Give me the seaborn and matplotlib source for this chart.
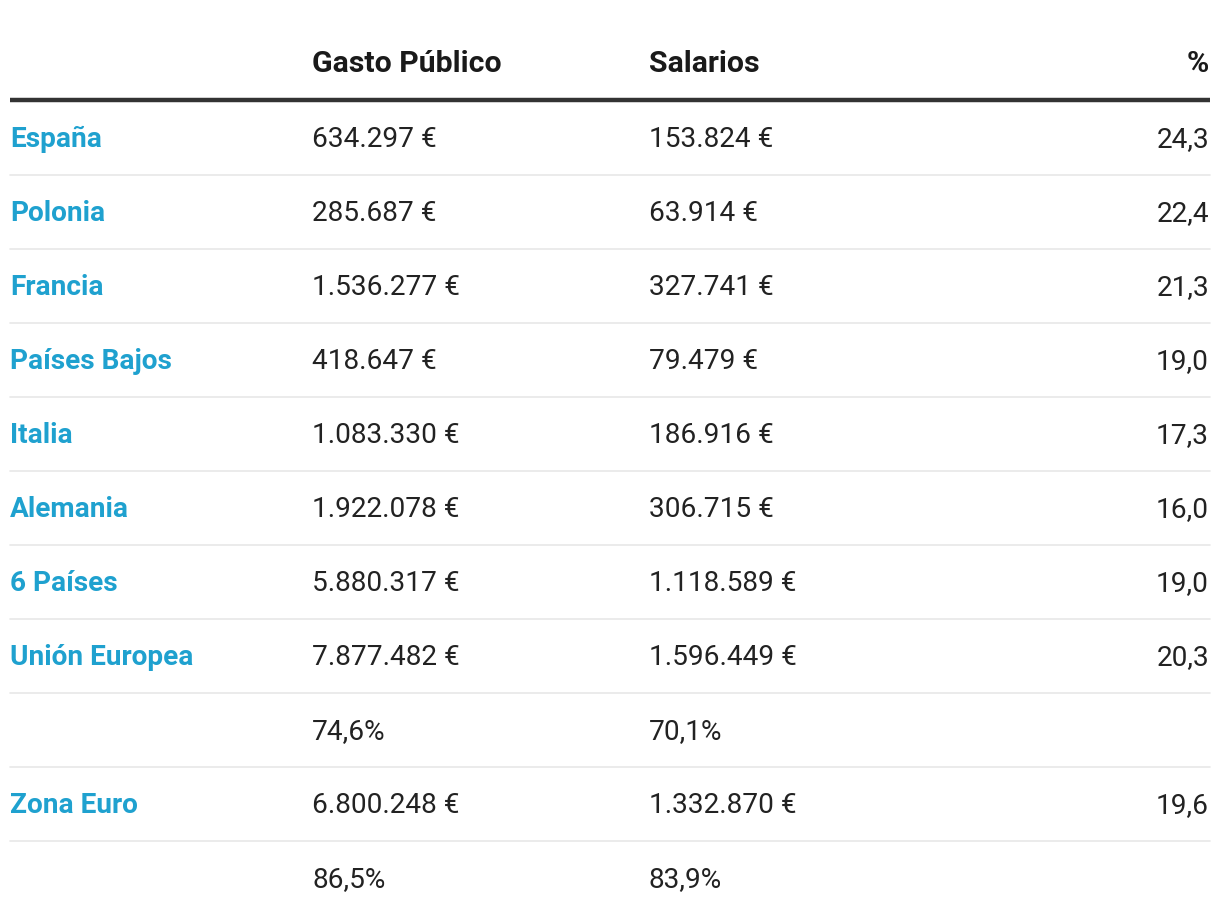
import matplotlib
matplotlib.use("Agg")
import matplotlib.pyplot as plt
import seaborn as sns

# Table data
paises = ['España', 'Polonia', 'Francia', 'Países Bajos', 'Italia', 'Alemania',
          '6 Países', 'Unión Europea', '', 'Zona Euro', '']
gasto = ['634.297 €', '285.687 €', '1.536.277 €', '418.647 €', '1.083.330 €',
         '1.922.078 €', '5.880.317 €', '7.877.482 €', '74,6%', '6.800.248 €', '86,5%']
salarios = ['153.824 €', '63.914 €', '327.741 €', '79.479 €', '186.916 €',
            '306.715 €', '1.118.589 €', '1.596.449 €', '70,1%', '1.332.870 €', '83,9%']
pct = ['24,3', '22,4', '21,3', '19,0', '17,3', '16,0', '19,0', '20,3', '', '19,6', '']
headers = ['', 'Gasto Público', 'Salarios', '%']

sns.set_theme(style='white')
plt.rcParams['font.family'] = ['Roboto', 'DejaVu Sans']

blue = '#1fa1cf'
dark = '#222222'

fig = plt.figure(figsize=(12.2, 9.24), dpi=100)
ax = fig.add_axes([0, 0, 1, 1])
ax.set_xlim(0, 1220)
ax.set_ylim(924, 0)
ax.axis('off')

col_x = [10, 312, 649, 1209]
fs = 20.2

# header
for i, h in enumerate(headers):
    ax.text(col_x[i], 64, h, fontsize=21.8, fontweight='bold', color='#1a1a1a',
            ha='right' if i == 3 else 'left', va='center')
ax.plot([10, 1210], [100, 100], color='#333333', lw=3.2, solid_capstyle='butt')

row_h = 74
for r in range(len(paises)):
    y = 138 + r * row_h
    ty = y + 1.5
    ax.text(col_x[0], ty, paises[r], fontsize=fs, fontweight='bold', color=blue,
            ha='left', va='center')
    ax.text(col_x[1], ty, gasto[r], fontsize=fs, color=dark, ha='left', va='center')
    ax.text(col_x[2], ty, salarios[r], fontsize=fs, color=dark, ha='left', va='center')
    ax.text(col_x[3], ty, pct[r], fontsize=fs, color=dark, ha='right', va='center')
    if r < len(paises) - 1:
        ax.plot([10, 1210], [y + 37, y + 37], color='#e8e8e8', lw=1.2)

fig.savefig('out.png', dpi=100)
